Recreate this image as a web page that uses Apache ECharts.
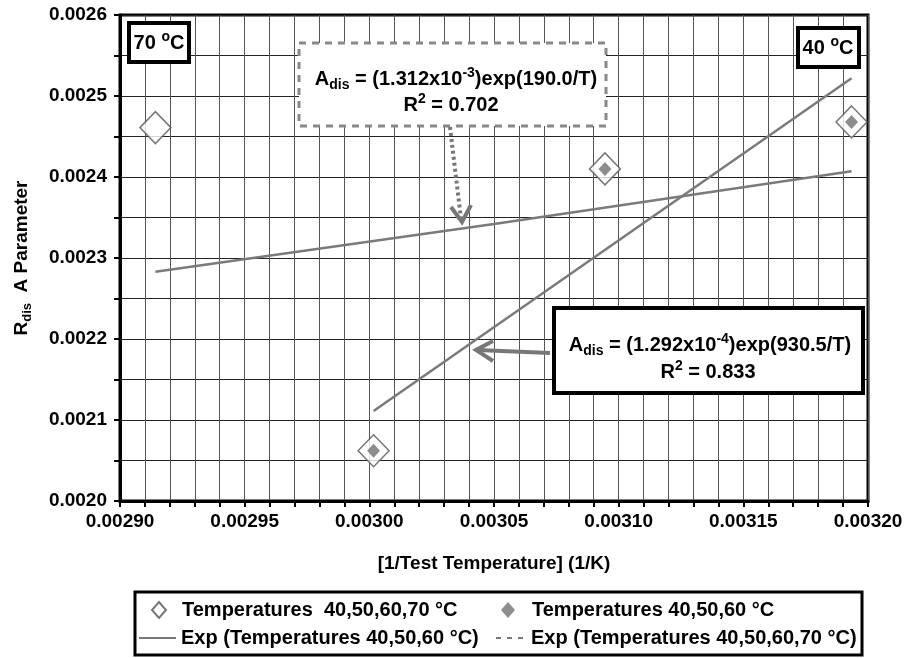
<!DOCTYPE html>
<html><head><meta charset="utf-8">
<script src="https://cdn.jsdelivr.net/npm/echarts@6/dist/echarts.min.js"></script>
<style>html,body{margin:0;padding:0;background:#fff}#c{width:908px;height:658px}</style>
</head><body><div id="c"></div>
<script>
// ---- data ----
const invTempAll = [0.0029142, 0.0030017, 0.0030945, 0.0031934];   // 70,60,50,40 °C
const aParamAll  = [0.002461, 0.002062, 0.002410, 0.002468];
const invTemp3   = [0.0030017, 0.0030945, 0.0031934];               // 60,50,40 °C
const aParam3    = [0.002062, 0.002410, 0.002468];
const fit3X = [0.0030017, 0.0031934];
const fit3Y = [0.002111, 0.002522];
const fit4X = [0.0029142, 0.0030500, 0.0031934];
const fit4Y = [0.002283, 0.002342, 0.002407];
const xTickLabels = ['0.00290','0.00295','0.00300','0.00305','0.00310','0.00315','0.00320'];
const yTickLabels = ['0.0020','0.0021','0.0022','0.0023','0.0024','0.0025','0.0026'];
const seriesNames = ['Temperatures  40,50,60,70 °C','Temperatures 40,50,60 °C',
  'Exp (Temperatures 40,50,60 °C)','Exp (Temperatures 40,50,60,70 °C)'];
const XMIN = 0.0029, XMAX = 0.0032, XSTEP = 0.00001, XINT = 0.00005;
const YMIN = 0.0020, YMAX = 0.0026, YINT = 0.0001;

const FONT = "'Liberation Sans', Arial, sans-serif";
const zip = (a, b) => a.map((v, i) => [v, b[i]]);

// fine vertical grid positions (axis values, every 0.00001)
const xGridValues = [];
for (let i = 1; i < Math.round((XMAX - XMIN) / XSTEP); i++) xGridValues.push(+(XMIN + i * XSTEP).toFixed(6));

const chart = echarts.init(document.getElementById('c'), null, {renderer: 'canvas'});

const richEq = {
  b:   {fontFamily: FONT, fontWeight: 'bold', fontSize: 20, lineHeight: 26, fill: '#000', color: '#000'},
  sub: {fontFamily: FONT, fontWeight: 'bold', fontSize: 14, lineHeight: 16, verticalAlign: 'bottom', fill: '#000', color: '#000'},
  sup: {fontFamily: FONT, fontWeight: 'bold', fontSize: 14, lineHeight: 16, verticalAlign: 'top', fill: '#000', color: '#000'}
};
function eqText(x, y, text) {
  return {type: 'text', x: x, y: y, z: 60,
    style: {text: text, align: 'center', verticalAlign: 'middle', rich: richEq,
      fontFamily: FONT, fontWeight: 'bold', fontSize: 20, fill: '#000'}};
}

function legendItem(name, left, top, w, h, extra, padLeft) {
  const d = Object.assign({name: name}, extra || {});
  return {
    show: true, orient: 'horizontal', left: left, top: top, padding: 0,
    itemWidth: w, itemHeight: h, itemGap: 0, selectedMode: false,
    data: [d],
    textStyle: {fontFamily: FONT, fontWeight: 'bold', fontSize: 20, color: '#000',
      lineHeight: 22, padding: [0, 0, 0, padLeft || 0]}
  };
}

const option = {
  animation: false,
  backgroundColor: '#fff',
  grid: {left: 120, right: 40, top: 15, bottom: 157, show: true,
    borderColor: '#000', borderWidth: 3, backgroundColor: 'transparent'},
  xAxis: [
    { // fine tick axis: ticks and grid every 0.00001
      type: 'value', min: XMIN, max: XMAX, interval: XSTEP, position: 'bottom',
      axisLine: {show: true, onZero: false, lineStyle: {color: '#000', width: 3}},
      axisTick: {show: true, interval: 0, inside: false, length: 6, lineStyle: {color: '#000', width: 2}},
      axisLabel: {show: true, formatter: () => ''},
      splitLine: {show: true, interval: 0, lineStyle: {color: '#555', width: 1}}
    },
    { // label axis: labels every 0.00005
      type: 'value', min: XMIN, max: XMAX, interval: XINT, position: 'bottom',
      name: '[1/Test Temperature] (1/K)', nameLocation: 'middle', nameGap: 53,
      nameTextStyle: {fontFamily: FONT, fontWeight: 'bold', fontSize: 19, color: '#000'},
      axisLine: {show: false}, axisTick: {show: false}, splitLine: {show: false},
      axisLabel: {interval: 0, margin: 11, color: '#000', fontFamily: FONT, fontWeight: 'bold', fontSize: 19,
        showMinLabel: true, showMaxLabel: true,
        formatter: v => xTickLabels[Math.round((v - XMIN) / XINT)] || ''}
    }
  ],
  yAxis: {
    type: 'value', min: YMIN, max: YMAX, interval: YINT,
    name: '{a|R}{s|dis}{a|  A Parameter}', nameLocation: 'middle', nameGap: 86, nameRotate: 90,
    nameTextStyle: {fontFamily: FONT, fontWeight: 'bold', fontSize: 19, color: '#000',
      rich: {a: {fontFamily: FONT, fontWeight: 'bold', fontSize: 19, color: '#000', lineHeight: 24},
             s: {fontFamily: FONT, fontWeight: 'bold', fontSize: 13, color: '#000', lineHeight: 14, verticalAlign: 'bottom'}}},
    axisLine: {show: true, onZero: false, lineStyle: {color: '#000', width: 3}},
    axisTick: {show: true, inside: false, length: 6, lineStyle: {color: '#000', width: 2}},
    minorTick: {show: true, splitNumber: 2, length: 6, lineStyle: {color: '#000', width: 2}},
    axisLabel: {interval: 0, margin: 13, color: '#000', fontFamily: FONT, fontWeight: 'bold', fontSize: 19,
      showMinLabel: true, showMaxLabel: true,
      formatter: v => yTickLabels[Math.round((v - YMIN) / YINT)] || ''},
    splitLine: {show: true, lineStyle: {color: '#222', width: 1}},
    minorSplitLine: {show: true, lineStyle: {color: '#222', width: 1}}
  },
  legend: [
    legendItem(seriesNames[0], 151, 599, 14, 16, null, 11),
    legendItem(seriesNames[1], 501, 599, 14, 16, null, 12),
    legendItem(seriesNames[2], 138, 627, 37, 14,
      {itemStyle: {opacity: 0}, lineStyle: {color: '#777', width: 2}}, 0),
    legendItem(seriesNames[3], 495, 627, 30, 14,
      {itemStyle: {opacity: 0}, lineStyle: {type: [5, 6], color: '#777', width: 2}}, 0)
  ],
  series: [
    { // helper carrying the fine vertical grid lines (invisible points)
     name: 'vertical grid', type: 'scatter', symbolSize: 0, z: 1, silent: true, xAxisIndex: 0,
     data: zip(invTempAll, aParamAll), itemStyle: {opacity: 0},
     markLine: {silent: true, symbol: ['none', 'none'], animation: false,
       label: {show: false},
       lineStyle: {type: 'solid', color: '#555', width: 1},
       data: xGridValues.map(v => ({xAxis: v}))}},
    {name: seriesNames[0], type: 'scatter', symbol: 'diamond', symbolSize: [31, 32], z: 3,
     xAxisIndex: 0, data: zip(invTempAll, aParamAll),
     itemStyle: {color: '#fff', borderColor: '#555', borderWidth: 1.5}},
    {name: seriesNames[1], type: 'scatter', symbol: 'diamond', symbolSize: [13, 14], z: 4,
     xAxisIndex: 0, data: zip(invTemp3, aParam3),
     itemStyle: {color: '#707070', borderWidth: 0}},
    {name: seriesNames[2], type: 'line', symbol: 'none', showSymbol: false, z: 2, silent: true,
     xAxisIndex: 0, data: zip(fit3X, fit3Y), itemStyle: {color: '#7a7a7a'}, lineStyle: {color: '#7a7a7a', width: 2.5}},
    {name: seriesNames[3], type: 'line', symbol: 'none', showSymbol: false, z: 2, silent: true,
     xAxisIndex: 0, data: zip(fit4X, fit4Y), itemStyle: {color: '#7a7a7a'}, lineStyle: {color: '#7a7a7a', width: 2.5}}
  ],
  graphic: [
    // 70 °C tag
    {type: 'rect', z: 50, shape: {x: 129, y: 23, width: 60, height: 39},
     style: {fill: '#fff', stroke: '#000', lineWidth: 4}},
    eqText(159, 43, '{b|70 }{sup|o}{b|C}'),
    // 40 °C tag
    {type: 'rect', z: 50, shape: {x: 798, y: 28, width: 61, height: 39},
     style: {fill: '#fff', stroke: '#000', lineWidth: 4}},
    eqText(828, 48, '{b|40 }{sup|o}{b|C}'),
    // dashed equation box (all temperatures)
    {type: 'rect', z: 50, shape: {x: 299, y: 43, width: 307, height: 83},
     style: {fill: '#fff', stroke: '#888', lineWidth: 3, lineDash: [7, 6]}},
    eqText(456, 79, '{b|A}{sub|dis}{b| = (1.312x10}{sup|-3}{b|)exp(190.0/T)}'),
    eqText(451, 105, '{b|R}{sup|2}{b| = 0.702}'),
    // dotted arrow
    {type: 'line', z: 50, shape: {x1: 450, y1: 127, x2: 461, y2: 219},
     style: {stroke: '#777', lineWidth: 4, lineDash: [3, 3]}},
    {type: 'polyline', z: 50, shape: {points: [[451, 207], [462, 222], [471, 205]]},
     style: {stroke: '#777', lineWidth: 4, fill: null}},
    // solid equation box (40,50,60 °C)
    {type: 'rect', z: 50, shape: {x: 554, y: 308, width: 309, height: 85},
     style: {fill: '#fff', stroke: '#000', lineWidth: 4}},
    eqText(710, 345, '{b|A}{sub|dis}{b| = (1.292x10}{sup|-4}{b|)exp(930.5/T)}'),
    eqText(708, 372, '{b|R}{sup|2}{b| = 0.833}'),
    // solid arrow
    {type: 'line', z: 50, shape: {x1: 550, y1: 353, x2: 478, y2: 350},
     style: {stroke: '#777', lineWidth: 4}},
    {type: 'polyline', z: 50, shape: {points: [[493, 341], [476, 350], [493, 361]]},
     style: {stroke: '#777', lineWidth: 4, fill: null}},
    // legend frame
    {type: 'rect', z: 40, shape: {x: 135, y: 592, width: 727, height: 63},
     style: {fill: 'none', stroke: '#000', lineWidth: 3}}
  ]
};
chart.setOption(option);
</script>
</body></html>
